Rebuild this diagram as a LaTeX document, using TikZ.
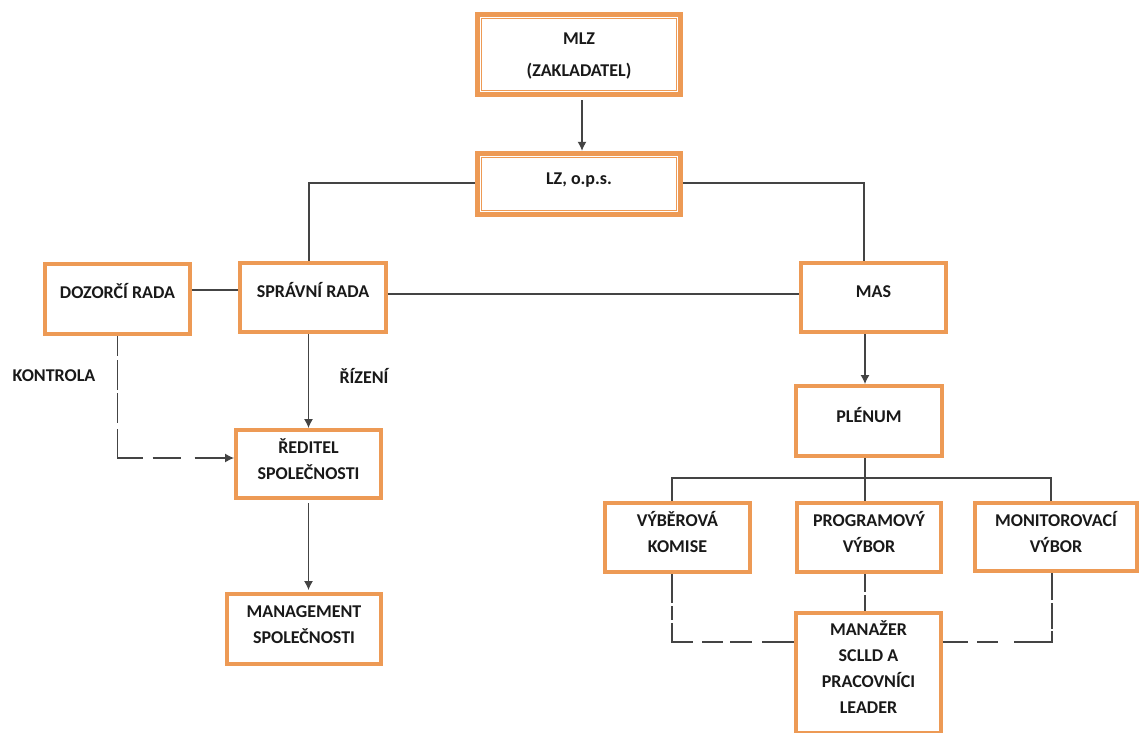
\documentclass[tikz,border=0pt]{standalone}
\usepackage{fontspec}
\setmainfont{Carlito}
\usetikzlibrary{arrows.meta}
\definecolor{boxorange}{HTML}{ED9A55}
\definecolor{linegray}{HTML}{444444}
\newcommand{\boxtext}[2]{\raisebox{\dimexpr #1pt-5pt\relax}[0pt][0pt]{\begin{tabular}{@{}c@{}}#2\end{tabular}}}
\tikzset{
 orgbox/.style={draw=boxorange,line width=4pt,fill=white,inner sep=0pt,text=black!90,font=\bfseries\fontsize{18}{26}\selectfont},
 bx/.style n args={2}{orgbox,minimum width=#1pt,minimum height=#2pt},
 thinframe/.style={draw=boxorange,line width=.9pt},
 conn/.style={draw=linegray,line width=1.2pt},
 arr/.style={conn,-{Latex[length=9pt,width=9pt]}},
 lbl/.style={font=\bfseries\fontsize{18}{22}\selectfont,text=black!90,inner sep=0pt}
}
\begin{document}
\begin{tikzpicture}[x=1pt,y=-1pt]
\useasboundingbox[fill=white] (0,0) rectangle (1140,732);
\node[bx={203}{80},line width=5.5pt,font=\bfseries\fontsize{18}{32}\selectfont] (mlz) at (579,54.5) {\boxtext{1.5}{MLZ\\(ZAKLADATEL)}};
\node[bx={203}{61},line width=5.5pt] (lz) at (579,184) {\boxtext{5}{LZ, o.p.s.}};
\draw[thinframe] ([shift={(7,7)}]mlz.north west) rectangle ([shift={(-7,-7)}]mlz.south east);
\draw[thinframe] ([shift={(7,7)}]lz.north west) rectangle ([shift={(-7,-7)}]lz.south east);
\node[bx={145}{70}] (dozor) at (117.5,299) {\boxtext{6}{DOZORČÍ RADA}};
\node[bx={146}{69}] (sprav) at (313,297.5) {\boxtext{5.5}{SPRÁVNÍ RADA}};
\node[bx={145}{68}] (redit) at (308.5,464) {\boxtext{3.5}{ŘEDITEL\\SPOLEČNOSTI}};
\node[bx={154}{70}] (mgmt) at (304,629) {\boxtext{4}{MANAGEMENT\\SPOLEČNOSTI}};
\node[bx={145}{69}] (mas) at (873.5,297.5) {\boxtext{5.5}{MAS}};
\node[bx={146}{70}] (plen) at (869,421) {\boxtext{4}{PLÉNUM}};
\node[bx={145}{69}] (vyber) at (677.5,537.5) {\boxtext{4}{VÝBĚROVÁ\\KOMISE}};
\node[bx={144}{69}] (progr) at (869,537.5) {\boxtext{4}{PROGRAMOVÝ\\VÝBOR}};
\node[bx={162}{68}] (monit) at (1056,537) {\boxtext{3.5}{MONITOROVACÍ\\VÝBOR}};
\node[bx={145}{120}] (manaz) at (868.5,673) {\boxtext{4.5}{MANAŽER\\SCLLD A\\PRACOVNÍCI\\LEADER}};
\node[lbl] (kontrola) at (54,376) {KONTROLA};
\node[lbl] (rizeni) at (364,376) {ŘÍZENÍ};
% connectors
\draw[arr] ([xshift=3pt,yshift=-3pt]mlz.south) -- ([xshift=3pt]lz.north);
\draw[conn] ([yshift=1pt]lz.west) -| ([xshift=-4pt]sprav.north);
\draw[conn] ([yshift=1pt]lz.east) -| ([xshift=-9.5pt]mas.north);
\draw[conn] ([yshift=9pt]dozor.east) -- ([yshift=7.5pt]sprav.west);
\draw[conn] ([yshift=3.5pt]sprav.east) -- ([yshift=3.5pt]mas.west);
\draw[arr] ([xshift=-4.5pt]sprav.south) -- (redit.north);
\draw[arr] ([yshift=-3pt]redit.south) -- ([yshift=2pt,xshift=4.5pt]mgmt.north);
\draw[arr] ([xshift=-8.5pt]mas.south) -- ([xshift=-4pt]plen.north);
\coordinate (railmid) at ([xshift=-4pt]plen.south |- 0,478);
\draw[conn] ([xshift=-4pt]plen.south) -- ([xshift=-4pt]progr.north);
\draw[conn] (railmid) -| ([xshift=-5.5pt]vyber.north);
\draw[conn] (railmid) -| ([xshift=-5pt]monit.north);
\coordinate (kontrolaelbow) at (dozor.south |- redit.west);
\draw[conn,-{Latex[length=9pt,width=9pt]},dash pattern=on 20pt off 4pt on 30pt off 3pt on 30pt off 6pt on 54pt off 10pt on 28pt off 14pt on 60pt] (dozor.south) -- ([yshift=6pt]kontrolaelbow) -- ([yshift=6pt]redit.west);
\draw[conn,dash pattern=on 29pt off 3pt on 14pt off 3pt on 40pt off 9pt on 20.6pt off 7.4pt on 22pt off 10pt on 60pt] ([xshift=-5.5pt]vyber.south) |- (manaz.west |- 0,642);
\draw[conn,dash pattern=on 18pt off 3pt on 30pt] ([xshift=-4pt]progr.south) -- ([xshift=-3.5pt]manaz.north);
\draw[conn,dash pattern=on 25pt off 9pt on 21pt off 16pt on 49pt off 2pt on 26pt off 3pt on 60pt] (manaz.east |- 0,642) -| ([xshift=-4pt]monit.south);
\end{tikzpicture}
\end{document}
